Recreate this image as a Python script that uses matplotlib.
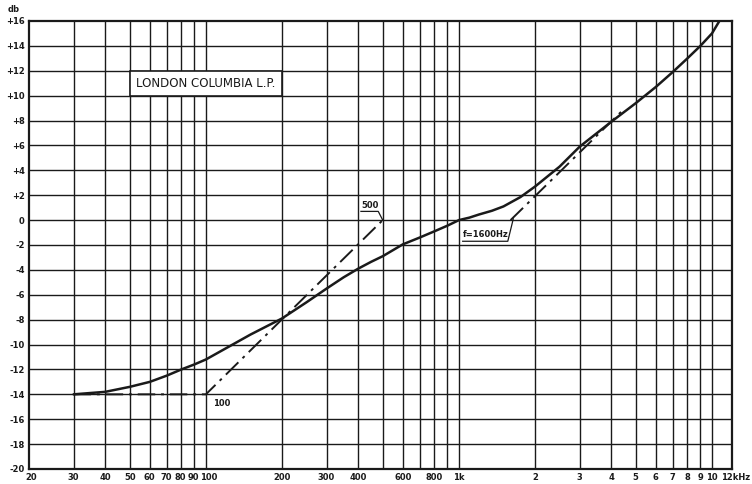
import matplotlib
matplotlib.use('Agg')
import matplotlib.pyplot as plt
from matplotlib.patches import Rectangle
from matplotlib.ticker import NullLocator
from matplotlib.transforms import ScaledTranslation

# ---- data ----
freq = [30, 40, 50, 60, 70, 80, 90, 100, 125, 150, 200, 250, 300, 350, 400, 450,
        500, 600, 700, 800, 900, 1000, 1100, 1200, 1350, 1500, 1750, 2000, 2500,
        3000, 4000, 5000, 6000, 7000, 8000, 9000, 10000, 10700]
gain = [-14.0, -13.8, -13.4, -13.0, -12.5, -12.0, -11.6, -11.2, -10.1, -9.2, -7.9,
        -6.6, -5.5, -4.6, -3.9, -3.35, -2.9, -1.95, -1.4, -0.9, -0.45, 0.0, 0.2,
        0.45, 0.75, 1.1, 1.85, 2.7, 4.3, 5.9, 7.9, 9.4, 10.7, 11.9, 13.0, 14.0,
        15.0, 16.0]

low_asym_f = [30, 100, 500]
low_asym_g = [-14, -14, 0]
high_asym_f = [1600, 4400]
high_asym_g = [0, 8.75]

grid_freqs = [30, 40, 50, 60, 70, 80, 90, 100, 200, 300, 400, 500, 600, 700, 800,
              900, 1000, 2000, 3000, 4000, 5000, 6000, 7000, 8000, 9000, 10000]
xtick_freqs = [20, 30, 40, 50, 60, 70, 80, 90, 100, 200, 300, 400, 600, 800, 1000,
               2000, 3000, 4000, 5000, 6000, 7000, 8000, 9000, 10000, 12000]
xtick_labels = ['20', '30', '40', '50', '60', '70', '80', '90', '100', '200', '300',
                '400', '600', '800', '1k', '2', '3', '4', '5', '6', '7', '8', '9',
                '10', '12kHz']
ytick_vals = list(range(-20, 17, 2))
ytick_labels = ['+%d' % v if v > 0 else ('0' if v == 0 else '-%d' % -v) for v in ytick_vals]

title_text = 'LONDON COLUMBIA L.P.'

# ---- figure ----
fig = plt.figure(figsize=(7.52, 4.84), dpi=100)
ax = fig.add_axes([29 / 752, 1 - 469 / 484, (732 - 29) / 752, (469 - 21) / 484])
ax.set_xscale('log')
ax.set_xlim(20, 12000)
ax.set_ylim(-20, 16)

ink = '#1a1a1a'
for f in grid_freqs:
    ax.axvline(f, color=ink, lw=1.0, zorder=1)
for v in ytick_vals[1:-1]:
    ax.axhline(v, color=ink, lw=1.0, zorder=1)

for s in ax.spines.values():
    s.set_linewidth(1.6)
    s.set_color(ink)

ax.xaxis.set_minor_locator(NullLocator())
ax.set_xticks(xtick_freqs)
ax.set_xticklabels(xtick_labels)
ax.set_yticks(ytick_vals)
ax.set_yticklabels(ytick_labels)
ax.tick_params(length=0, pad=3, labelsize=6, colors=ink)
for lab in ax.get_xticklabels() + ax.get_yticklabels():
    lab.set_fontweight('bold')


def nudge(lab, dx_px):
    lab.set_transform(lab.get_transform() +
                      ScaledTranslation(dx_px / 100, 0, fig.dpi_scale_trans))


xl = ax.get_xticklabels()
nudge(xl[0], 2)
nudge(xl[6], -1.5)
nudge(xl[7], -0.5)
nudge(xl[8], 2.5)
nudge(xl[-1], 4)

fig.text(8 / 752, 1 - 9 / 484, 'db', fontsize=6, fontweight='bold', color=ink,
         va='center')

# curves
ax.plot(freq, gain, color=ink, lw=1.8, zorder=5, solid_capstyle='round',
        solid_joinstyle='round')
dd = (0, (9, 3, 1.5, 3))
ax.plot(low_asym_f, low_asym_g, color=ink, lw=1.4, linestyle=dd, zorder=4)
ax.plot(high_asym_f, high_asym_g, color=ink, lw=1.4, linestyle=dd, zorder=4)

# title box
ax.add_patch(Rectangle((50, 10), 150, 2, facecolor='white', edgecolor=ink, lw=1.2,
                       zorder=3))
ax.text(53, 11, title_text, va='center', ha='left', fontsize=8.5, color=ink, zorder=4)

# annotations
ax.text(410, 0.8, '500', fontsize=6, fontweight='bold', color=ink, va='bottom')
ax.plot([410, 480, 500], [0.7, 0.7, 0], color=ink, lw=0.9, zorder=4)

ax.text(1035, -1.5, 'f=1600Hz', fontsize=6, fontweight='bold', color=ink,
        va='bottom')
ax.plot([1035, 1560, 1640], [-1.7, -1.7, 0.1], color=ink, lw=0.9, zorder=4)

ax.text(107, -14.4, '100', fontsize=6, fontweight='bold', color=ink, va='top')

fig.savefig('out.png', dpi=100, facecolor='white')
